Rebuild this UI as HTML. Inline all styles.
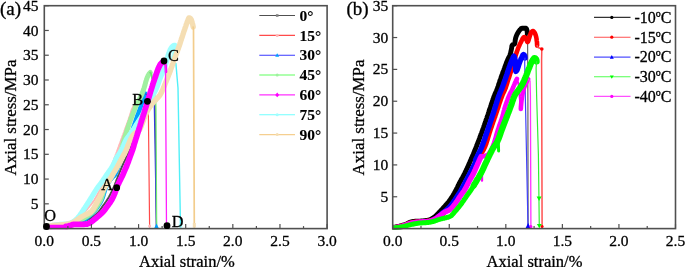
<!DOCTYPE html>
<html lang="en">
<head>
<meta charset="utf-8">
<title>Axial stress-strain curves</title>
<style>
html,body{margin:0;padding:0;background:#fff;}
body{width:685px;height:267px;overflow:hidden;font-family:"Liberation Serif","Times New Roman",serif;}
svg{display:block;}
</style>
</head>
<body>
<svg width="685" height="267" viewBox="0 0 685 267">
<rect width="685" height="267" fill="#fff"/>
<defs><clipPath id="cl"><rect x="44.3" y="5.7" width="282.8" height="224"/></clipPath><clipPath id="cr"><rect x="392.7" y="5.7" width="282.8" height="224"/></clipPath></defs>
<g clip-path="url(#cl)"><polyline points="47.0,227.0 48.0,227.0 49.1,227.0 50.1,226.9 51.1,226.9 52.1,226.9 53.2,226.8 54.2,226.7 55.2,226.6 56.2,226.6 57.2,226.5 58.2,226.4 59.2,226.2 60.2,226.1 61.2,226.0 62.2,225.8 63.2,225.7 64.2,225.5 65.2,225.4 66.2,225.2 67.2,225.1 68.2,224.9 69.2,224.7 70.1,224.5 71.1,224.3 72.1,224.1 73.1,223.9 74.1,223.8 75.0,223.6 76.0,223.3 77.0,223.1 78.0,222.9 78.9,222.7 79.9,222.5 80.9,222.3 81.8,222.0 82.8,221.7 83.8,221.3 84.7,221.0 85.7,220.6 86.6,220.3 87.6,219.9 88.5,219.6 89.4,219.2 90.3,218.7 91.2,218.2 92.0,217.6 92.8,217.0 93.6,216.4 94.3,215.7 95.1,215.1 95.9,214.4 96.6,213.7 97.4,213.1 98.1,212.3 98.8,211.6 99.4,210.8 100.0,210.0 100.6,209.2 101.2,208.4 101.8,207.6 102.3,206.7 102.9,205.9 103.5,205.1 104.1,204.3 104.7,203.5 105.3,202.7 105.9,201.8 106.4,201.0 107.0,200.2 107.5,199.3 108.0,198.4 108.6,197.6 109.1,196.7 109.5,195.8 110.0,194.9 110.5,194.0 110.9,193.1 111.4,192.2 111.8,191.3 112.3,190.4 112.7,189.5 113.1,188.6 113.5,187.7 113.9,186.8 114.3,185.8 114.7,184.9 115.0,184.0 115.4,183.0 115.8,182.1 116.1,181.1 116.5,180.2 116.8,179.3 117.2,178.3 117.6,177.4 117.9,176.4 118.3,175.5 118.7,174.6 119.1,173.6 119.4,172.7 119.8,171.8 120.2,170.8 120.6,169.9 121.0,169.0 121.4,168.1 121.8,167.1 122.2,166.2 122.6,165.3 123.0,164.4 123.4,163.5 123.8,162.5 124.3,161.6 124.7,160.7 125.2,159.8 125.6,158.9 126.0,158.0 126.4,157.1 126.9,156.2 127.3,155.3 127.7,154.3 128.1,153.4 128.5,152.5 128.9,151.6 129.3,150.7 129.7,149.7 130.1,148.8 130.4,147.9 130.8,146.9 131.1,146.0 131.5,145.0 131.8,144.1 132.2,143.1 132.5,142.2 132.8,141.2 133.2,140.3 133.5,139.3 133.9,138.4 134.2,137.4 134.5,136.5 134.9,135.5 135.2,134.6 135.6,133.7 135.9,132.7 136.2,131.8 136.6,130.8 136.9,129.9 137.2,128.9 137.6,128.0 137.9,127.0 138.2,126.1 138.6,125.1 138.9,124.2 139.2,123.2 139.6,122.3 139.9,121.3 140.2,120.4 140.5,119.4 140.9,118.4 141.2,117.5 141.5,116.5 141.8,115.6 142.1,114.6 142.4,113.7 142.7,112.7 143.1,111.7 143.4,110.8 143.7,109.8 144.0,108.9 144.3,107.9 144.7,107.0 145.0,106.0 145.3,105.1 145.6,104.1 146.0,103.1 146.3,102.2 146.6,101.2 147.0,100.3 147.3,99.3 147.8,98.4 148.2,97.6 148.8,96.8 149.5,96.0" fill="none" stroke="#505050" stroke-width="2" stroke-linejoin="round" stroke-linecap="round" />
<polyline points="149.5,96.0 155.0,101.0 155.2,110.0 156.3,227.0" fill="none" stroke="#505050" stroke-width="1.1" stroke-linejoin="round" stroke-linecap="round" />
<polyline points="47.0,227.0 48.0,226.9 49.0,226.7 50.0,226.6 51.0,226.5 52.0,226.3 53.0,226.2 54.0,226.0 55.0,225.8 56.0,225.7 57.0,225.5 58.0,225.3 59.0,225.2 60.0,225.0 61.0,224.8 62.0,224.7 63.0,224.5 64.0,224.3 65.0,224.2 66.0,224.0 67.0,223.8 68.0,223.5 68.9,223.3 69.9,223.0 70.8,222.7 71.7,222.4 72.6,221.9 73.5,221.4 74.4,220.9 75.3,220.4 76.2,219.8 77.0,219.2 77.8,218.6 78.6,218.0 79.4,217.4 80.1,216.7 80.8,216.0 81.5,215.3 82.2,214.6 82.9,213.8 83.6,213.0 84.3,212.3 85.0,211.5 85.6,210.8 86.3,210.0 87.0,209.3 87.7,208.5 88.3,207.7 89.0,207.0 89.6,206.2 90.3,205.4 90.9,204.6 91.5,203.8 92.1,203.0 92.8,202.2 93.3,201.4 93.9,200.6 94.5,199.7 95.0,198.9 95.5,198.1 96.0,197.2 96.5,196.3 97.0,195.4 97.5,194.5 98.0,193.6 98.5,192.8 98.9,191.9 99.4,191.0 99.9,190.1 100.4,189.2 100.8,188.3 101.3,187.4 101.8,186.5 102.3,185.6 102.8,184.8 103.3,183.9 103.8,183.0 104.3,182.1 104.8,181.2 105.3,180.3 105.8,179.5 106.2,178.6 106.7,177.7 107.1,176.8 107.5,175.8 107.9,174.9 108.3,174.0 108.7,173.1 109.1,172.1 109.5,171.2 109.9,170.3 110.3,169.3 110.6,168.4 111.0,167.5 111.4,166.5 111.7,165.6 112.1,164.6 112.4,163.7 112.8,162.7 113.1,161.8 113.5,160.8 113.9,159.9 114.2,158.9 114.6,158.0 114.9,157.1 115.3,156.1 115.6,155.2 116.0,154.2 116.4,153.3 116.7,152.3 117.1,151.4 117.4,150.4 117.8,149.5 118.1,148.5 118.4,147.6 118.8,146.6 119.1,145.7 119.5,144.7 119.8,143.8 120.2,142.9 120.5,141.9 120.9,141.0 121.2,140.0 121.5,139.1 121.9,138.1 122.2,137.2 122.6,136.2 122.9,135.3 123.3,134.3 123.6,133.4 124.0,132.4 124.3,131.5 124.6,130.5 125.0,129.6 125.3,128.6 125.7,127.7 126.0,126.7 126.3,125.8 126.7,124.8 127.0,123.9 127.4,122.9 127.7,122.0 128.0,121.0 128.4,120.1 128.7,119.1 129.0,118.2 129.4,117.2 129.7,116.2 130.0,115.3 130.3,114.3 130.6,113.3 130.9,112.4 131.2,111.4 131.5,110.4 131.9,109.5 132.2,108.6 132.7,107.7 133.1,106.8 133.6,105.9 134.1,105.0 134.7,104.2 135.2,103.3 135.8,102.5 136.5,101.7 137.1,100.9 137.7,100.1 138.4,99.4 139.1,98.7 139.8,97.9 140.6,97.2 141.3,96.6 142.1,95.9 142.9,95.3 143.7,94.7 144.5,94.1 145.3,93.5 146.2,93.0" fill="none" stroke="#ffb8b8" stroke-width="2" stroke-linejoin="round" stroke-linecap="round" />
<polyline points="146.2,93.0 148.2,98.0 148.4,115.0 149.6,227.0" fill="none" stroke="#ff4a4a" stroke-width="1.2" stroke-linejoin="round" stroke-linecap="round" />
<polyline points="47.0,227.0 48.0,227.0 49.1,227.0 50.1,227.0 51.1,226.9 52.1,226.9 53.1,226.8 54.2,226.8 55.2,226.7 56.2,226.6 57.2,226.5 58.2,226.5 59.2,226.4 60.2,226.3 61.2,226.1 62.2,226.0 63.2,225.9 64.2,225.8 65.2,225.7 66.2,225.5 67.2,225.4 68.1,225.3 69.1,225.1 70.1,225.0 71.1,224.8 72.1,224.6 73.0,224.3 74.0,224.1 75.0,223.8 75.9,223.4 76.9,223.1 77.9,222.8 78.8,222.4 79.8,222.1 80.7,221.7 81.7,221.4 82.6,221.1 83.6,220.7 84.5,220.3 85.4,219.8 86.2,219.3 87.0,218.6 87.8,218.0 88.5,217.3 89.3,216.6 90.1,216.0 90.8,215.3 91.6,214.6 92.3,213.9 93.1,213.3 93.8,212.5 94.5,211.8 95.1,211.1 95.8,210.3 96.4,209.5 97.0,208.7 97.6,207.8 98.2,207.0 98.7,206.2 99.3,205.3 99.8,204.5 100.4,203.6 100.9,202.8 101.4,201.9 101.9,201.0 102.3,200.1 102.7,199.2 103.1,198.3 103.4,197.3 103.8,196.4 104.1,195.4 104.3,194.4 104.6,193.4 104.9,192.5 105.2,191.5 105.5,190.5 105.9,189.6 106.2,188.6 106.6,187.7 107.0,186.8 107.5,185.9 107.9,185.0 108.4,184.1 108.9,183.2 109.5,182.3 110.0,181.5 110.5,180.6 111.1,179.8 111.8,179.1 112.5,178.3 113.2,177.6 114.0,176.9 114.6,176.2 115.3,175.4 115.8,174.6 116.2,173.7 116.6,172.8 117.0,171.9 117.4,170.9 117.7,170.0 118.1,169.0 118.4,168.0 118.8,167.1 119.1,166.1 119.4,165.1 119.8,164.2 120.2,163.2 120.5,162.3 120.9,161.4 121.2,160.4 121.5,159.5 121.9,158.5 122.2,157.6 122.6,156.6 122.9,155.7 123.3,154.7 123.6,153.8 123.9,152.8 124.3,151.9 124.6,150.9 125.0,150.0 125.4,149.0 125.7,148.1 126.1,147.2 126.5,146.2 126.8,145.3 127.2,144.3 127.6,143.4 127.9,142.5 128.3,141.5 128.7,140.6 129.1,139.7 129.5,138.7 129.8,137.8 130.2,136.9 130.6,135.9 131.0,135.0" fill="none" stroke="#00a0ff" stroke-width="3.2" stroke-linejoin="round" stroke-linecap="round" />
<polyline points="131.0,135.0 131.3,134.0 131.6,133.0 131.9,132.0 132.2,131.0 132.6,130.0 132.9,129.0 133.2,128.0 133.5,127.0 133.8,126.0 134.2,125.0 134.5,124.0 134.8,123.1 135.2,122.1 135.5,121.1 135.8,120.1 136.2,119.1 136.5,118.1 136.9,117.1 137.2,116.1 137.5,115.2 137.9,114.2 138.3,113.2 138.6,112.2 139.0,111.2 139.4,110.3 139.7,109.3 140.1,108.3 140.5,107.3 140.8,106.3 141.2,105.4 141.5,104.4 141.8,103.4 142.2,102.4 142.5,101.4 142.8,100.4 143.1,99.4 143.4,98.4 143.7,97.4 143.9,96.3 144.3,95.4 144.7,94.4 145.2,93.5" fill="none" stroke="#00a0ff" stroke-width="4.4" stroke-linejoin="round" stroke-linecap="round" />
<polyline points="145.5,94.0 154.0,100.0 154.3,104.0 156.5,227.0" fill="none" stroke="#3838e0" stroke-width="1.3" stroke-linejoin="round" stroke-linecap="round" />
<polyline points="47.0,227.0 48.0,226.9 49.0,226.8 50.0,226.8 51.0,226.7 52.0,226.5 53.0,226.4 54.0,226.3 55.0,226.2 56.0,226.1 57.0,225.9 58.0,225.8 59.0,225.6 60.0,225.5 61.0,225.3 62.0,225.2 63.0,225.0 64.0,224.8 65.0,224.6 66.0,224.4 67.0,224.2 68.0,224.0 68.9,223.8 69.9,223.5 70.9,223.3 71.9,223.0 72.8,222.8 73.8,222.5 74.7,222.1 75.7,221.8 76.6,221.4 77.6,221.0 78.5,220.6 79.4,220.2 80.4,219.8 81.3,219.4 82.2,219.0 83.1,218.5 84.0,218.1 84.9,217.6 85.7,217.1 86.6,216.5 87.5,216.0 88.3,215.4 89.1,214.8 90.0,214.2 90.7,213.6 91.5,212.9 92.2,212.3 92.9,211.6 93.6,210.8 94.2,210.0 94.8,209.2 95.4,208.4 96.0,207.5 96.5,206.7 97.1,205.8 97.7,205.0 98.2,204.2 98.8,203.3 99.3,202.4 99.8,201.6 100.3,200.7 100.7,199.8 101.1,198.9 101.4,197.9 101.8,197.0 102.1,196.0 102.4,195.0 102.7,194.1 102.9,193.1 103.2,192.1 103.5,191.1 103.9,190.2 104.2,189.2 104.6,188.3 105.0,187.4 105.4,186.5 105.9,185.6 106.4,184.7 106.9,183.8 107.4,183.0 107.9,182.1 108.5,181.3 109.1,180.4 109.7,179.6 110.3,178.8 110.8,177.9 111.3,177.1 111.7,176.2 112.0,175.2 112.4,174.3 112.7,173.4 113.0,172.4 113.3,171.4 113.6,170.4 113.9,169.5 114.2,168.5 114.5,167.5 114.8,166.5 115.1,165.6 115.4,164.6 115.8,163.7 116.2,162.7 116.5,161.8 116.9,160.9 117.3,160.0 117.7,159.0 118.1,158.1 118.5,157.2 118.9,156.2 119.3,155.3 119.7,154.4 120.1,153.4 120.4,152.5 120.8,151.6 121.1,150.6 121.4,149.6 121.7,148.7 122.0,147.7 122.2,146.7 122.5,145.8 122.7,144.8 123.0,143.8 123.2,142.8 123.5,141.9 123.8,140.9 124.0,139.9 124.3,138.9 124.6,138.0 124.9,137.0 125.2,136.0 125.5,135.1 125.8,134.1 126.1,133.2 126.4,132.2 126.7,131.2 127.0,130.3 127.4,129.3 127.7,128.4 128.0,127.4 128.3,126.5 128.6,125.5 129.0,124.5 129.3,123.6 129.6,122.6 130.0,121.7 130.3,120.7 130.6,119.8 131.0,118.8 131.3,117.9 131.7,116.9 132.0,116.0 132.4,115.1 132.7,114.1 133.1,113.2 133.4,112.2 133.8,111.3 134.2,110.3 134.6,109.4 134.9,108.5 135.3,107.5 135.7,106.6 136.1,105.7 136.6,104.8 137.0,103.9 137.5,103.0 137.9,102.1 138.4,101.2 138.9,100.3 139.4,99.4 139.8,98.5 140.3,97.6 140.7,96.7 141.2,95.8 141.5,94.9 141.9,94.0 142.3,93.0 142.7,92.1 143.0,91.1 143.3,90.2 143.7,89.2 144.0,88.3 144.3,87.3 144.6,86.3 144.9,85.4 145.1,84.4 145.4,83.4 145.6,82.4 145.9,81.4 146.2,80.5 146.5,79.5 146.8,78.6 147.2,77.6 147.6,76.7 148.0,75.8 148.5,74.9 149.0,74.0 149.6,73.2 150.3,72.5" fill="none" stroke="#a0f0a0" stroke-width="5" stroke-linejoin="round" stroke-linecap="round" />
<polyline points="150.3,72.5 151.5,74.5 152.0,78.0" fill="none" stroke="#70e070" stroke-width="2" stroke-linejoin="round" stroke-linecap="round" />
<polyline points="152.0,78.0 154.0,90.0 155.8,102.0 156.0,110.0 156.7,227.0" fill="none" stroke="#70ee70" stroke-width="1.2" stroke-linejoin="round" stroke-linecap="round" />
<polyline points="47.0,227.0 48.0,226.7 48.9,226.4 49.9,226.1 50.9,225.9 51.8,225.6 52.8,225.4 53.8,225.2 54.8,225.1 55.8,224.9 56.8,224.7 57.8,224.6 58.8,224.5 59.8,224.4 60.8,224.4 61.8,224.3 62.8,224.3 63.8,224.2 64.8,224.1 65.8,224.0 66.8,223.9 67.8,223.7 68.8,223.5 69.8,223.2 70.8,222.9 71.7,222.5 72.6,222.1 73.4,221.5 74.3,220.9 75.1,220.3 75.8,219.7 76.6,219.0 77.3,218.3 78.0,217.5 78.6,216.8 79.2,216.0 79.8,215.2 80.4,214.3 81.0,213.5 81.6,212.7 82.1,211.8 82.7,211.0 83.2,210.2 83.8,209.3 84.3,208.5 84.9,207.6 85.4,206.8 86.0,205.9 86.5,205.1 87.1,204.3 87.6,203.4 88.2,202.6 88.7,201.7 89.3,200.9 89.8,200.0 90.3,199.2 90.9,198.3 91.4,197.4 91.9,196.6 92.4,195.7 93.0,194.9 93.5,194.0 94.0,193.2 94.6,192.3 95.1,191.4 95.6,190.6 96.2,189.7 96.7,188.9 97.3,188.1 97.8,187.2 98.4,186.4 99.1,185.6 99.7,184.8 100.3,184.0 100.9,183.2 101.5,182.4 102.1,181.6 102.7,180.8 103.2,179.9 103.8,179.1 104.3,178.3 104.9,177.4 105.4,176.6 106.0,175.7 106.6,174.9 107.1,174.1 107.7,173.3 108.3,172.4 108.9,171.6 109.5,170.8 110.0,170.0 110.6,169.1 111.1,168.3 111.7,167.4 112.2,166.6 112.7,165.7 113.2,164.8 113.7,163.9 114.1,163.0 114.5,162.1 115.0,161.2 115.4,160.3 115.8,159.4 116.2,158.4 116.7,157.6 117.2,156.7 117.7,155.8 118.3,155.0 118.9,154.1 119.4,153.3 120.0,152.5 120.5,151.6 121.1,150.8 121.6,149.9 122.0,149.0 122.4,148.1 122.8,147.2 123.2,146.2 123.6,145.3 124.0,144.3 124.4,143.4 124.8,142.5 125.2,141.6 125.6,140.7 126.1,139.8 126.6,139.0 127.2,138.1 127.8,137.3 128.4,136.5 129.0,135.7 129.6,134.9 130.2,134.0 130.8,133.2 131.3,132.4 131.9,131.6 132.5,130.7 133.1,129.9 133.6,129.1 134.2,128.2 134.7,127.4 135.2,126.5 135.7,125.7 136.3,124.8 136.8,123.9 137.3,123.1 137.9,122.2 138.4,121.4 139.0,120.5 139.5,119.7 140.1,118.9 140.6,118.0 141.2,117.2 141.7,116.3 142.2,115.5 142.7,114.6 143.2,113.7 143.7,112.8 144.1,111.9 144.6,111.0 145.0,110.1 145.4,109.2 145.9,108.3 146.3,107.4 146.8,106.5 147.2,105.6 147.7,104.7 148.1,103.8 148.6,102.9 149.1,102.0 149.6,101.1 150.1,100.3 150.6,99.4 151.1,98.5 151.6,97.6 152.1,96.7 152.5,95.9 153.0,95.0 153.5,94.1 154.0,93.2 154.4,92.3 154.9,91.4 155.4,90.5 155.8,89.6 156.3,88.7 156.7,87.8 157.1,86.9 157.4,85.9 157.8,85.0 158.1,84.0 158.4,83.1 158.8,82.1 159.1,81.2 159.4,80.2 159.8,79.3 160.1,78.3 160.5,77.4 160.9,76.5 161.3,75.5 161.7,74.6 162.1,73.7 162.4,72.7 162.8,71.8 163.2,70.9 163.5,69.9 163.9,69.0 164.2,68.0 164.6,67.1 164.9,66.1 165.3,65.2 165.6,64.2 165.9,63.3 166.2,62.3 166.5,61.4 166.7,60.4 167.0,59.4 167.2,58.4 167.5,57.5 167.8,56.5 168.0,55.5 168.3,54.6 168.6,53.6 169.0,52.6 169.3,51.7 169.7,50.8 170.1,49.8 170.6,48.9 171.1,48.0 171.7,47.2 172.3,46.5 173.2,45.8 174.1,45.3 174.9,45.4 175.7,46.2 176.0,47.2 175.9,48.1 175.8,49.1 175.6,50.1 175.5,51.2 175.3,52.2 175.0,53.1 174.7,54.1 174.4,55.1 174.0,56.0 173.8,57.0 173.6,58.0 173.5,59.0 173.4,60.0 173.4,61.0" fill="none" stroke="#a0ffff" stroke-width="5.2" stroke-linejoin="round" stroke-linecap="round" />
<polyline points="173.4,61.0 175.9,63.6 178.0,88.0 178.4,110.0 180.5,227.0" fill="none" stroke="#50f0f8" stroke-width="1.4" stroke-linejoin="round" stroke-linecap="round" />
<polyline points="47.0,226.5 48.0,226.3 49.0,226.1 50.0,226.0 51.0,225.8 52.0,225.6 52.9,225.5 53.9,225.4 54.9,225.3 55.9,225.2 56.9,225.2 57.9,225.1 59.0,225.0 60.0,225.0 61.0,224.9 62.0,224.8 63.0,224.7 64.0,224.6 65.0,224.5 66.0,224.3 67.0,224.2 68.0,224.0 68.9,223.8 69.9,223.6 70.8,223.4 71.8,223.0 72.7,222.6 73.6,222.1 74.5,221.6 75.4,221.1 76.2,220.5 77.0,220.0 77.8,219.4 78.6,218.7 79.4,218.2 80.3,217.6 81.2,217.1 82.0,216.6 82.9,216.1 83.8,215.7 84.7,215.2 85.6,214.7 86.5,214.3 87.5,213.8 88.4,213.4 89.3,212.9 90.1,212.4 90.9,211.9 91.5,211.2 92.2,210.4 92.8,209.6 93.3,208.8 93.9,207.9 94.4,207.0 94.9,206.1 95.4,205.3 95.9,204.4 96.4,203.5 96.9,202.6 97.4,201.7 97.8,200.8 98.3,199.9 98.8,199.1 99.2,198.2 99.7,197.3 100.1,196.4 100.6,195.5 101.0,194.6 101.5,193.7 101.9,192.8 102.4,191.9 102.9,191.0 103.3,190.1 103.8,189.2 104.3,188.3 104.8,187.5 105.3,186.6 105.8,185.8 106.4,184.9 106.9,184.1 107.4,183.2 108.0,182.4 108.5,181.5 109.0,180.6 109.6,179.8 110.1,178.9 110.6,178.1 111.1,177.2 111.7,176.4 112.2,175.5 112.7,174.7 113.2,173.8 113.7,172.9 114.2,172.1 114.8,171.2 115.3,170.3 115.8,169.5 116.3,168.6 116.8,167.7 117.3,166.9 117.8,166.0 118.2,165.1 118.7,164.2 119.2,163.3 119.7,162.4 120.1,161.6 120.6,160.7 121.1,159.8 121.5,158.9 122.0,158.0 122.5,157.1 122.9,156.2 123.4,155.3 123.9,154.5 124.4,153.6 124.9,152.7 125.3,151.8 125.8,150.9 126.2,150.0 126.6,149.1 127.0,148.2 127.4,147.2 127.7,146.3 128.1,145.3 128.4,144.4 128.8,143.4 129.2,142.5 129.6,141.6 130.0,140.7 130.4,139.8 130.9,138.9 131.3,138.0 131.8,137.1 132.4,136.2 132.9,135.3 133.5,134.6 134.2,133.8 134.9,133.2 135.8,132.7 136.7,132.2 137.6,131.6 138.4,131.1 139.1,130.4 139.6,129.6 140.1,128.8 140.5,127.8 140.9,126.9 141.3,125.9 141.6,124.9 142.0,124.0 142.4,123.1 142.8,122.1 143.1,121.2 143.5,120.2 143.8,119.3 144.2,118.3 144.5,117.4 144.9,116.5 145.3,115.5 145.7,114.6 146.1,113.7 146.5,112.8 147.0,111.9 147.4,111.0 147.9,110.1 148.4,109.3 148.9,108.4 149.5,107.5 150.0,106.7 150.6,105.9 151.2,105.1 151.8,104.3 152.4,103.5 153.1,102.7 153.7,102.0 154.4,101.2 155.1,100.5 155.8,99.8 156.4,99.0 157.1,98.3 157.9,97.5 158.6,96.8 159.2,96.1 159.8,95.3 160.3,94.5 160.8,93.6 161.3,92.7 161.7,91.8 162.1,90.9 162.6,89.9 163.0,89.0 163.4,88.1 163.8,87.2 164.2,86.2 164.6,85.3 164.9,84.4 165.3,83.5 165.7,82.5 166.1,81.6 166.4,80.7 166.8,79.7 167.2,78.8 167.5,77.9 167.9,76.9 168.3,76.0 168.6,75.1 169.0,74.1 169.4,73.2 169.7,72.2 170.1,71.3 170.4,70.4 170.7,69.4 171.1,68.5 171.4,67.5 171.8,66.6 172.1,65.6 172.4,64.7 172.8,63.7 173.1,62.8 173.4,61.8 173.7,60.9 174.1,59.9 174.4,59.0 174.7,58.0 175.1,57.1 175.4,56.2 175.8,55.2 176.2,54.3 176.5,53.3 176.9,52.4 177.3,51.5 177.6,50.5 177.9,49.6 178.3,48.6 178.6,47.7 178.9,46.7 179.3,45.8 179.6,44.8 179.9,43.9 180.2,42.9 180.5,42.0 180.8,41.0 181.1,40.1 181.4,39.1 181.7,38.2 182.1,37.2 182.4,36.2 182.7,35.3 183.0,34.3 183.3,33.4 183.6,32.4 183.9,31.5 184.3,30.5 184.6,29.6 184.9,28.6 185.2,27.7 185.6,26.7 185.9,25.8 186.2,24.8 186.5,23.9 186.9,22.9 187.2,22.0 187.6,21.0 188.0,20.1 188.4,18.9 188.8,18.0 189.5,17.9 190.5,18.5 191.0,19.2 191.4,20.1 191.7,21.1 192.0,22.1 192.3,23.1 192.6,24.0 192.8,25.0 193.0,26.0 193.2,27.0" fill="none" stroke="#f5deb3" stroke-width="5.4" stroke-linejoin="round" stroke-linecap="round" />
<polyline points="193.2,27.0 193.5,30.0 194.3,227.0" fill="none" stroke="#f3cd8c" stroke-width="1.7" stroke-linejoin="round" stroke-linecap="round" />
<polyline points="66.0,226.4 67.0,226.3 68.0,226.1 69.0,225.8 69.9,225.5 70.9,225.2 71.8,224.9 72.8,224.6 73.8,224.4 74.8,224.4 75.8,224.3 76.8,224.3 77.8,224.3 78.8,224.3 79.8,224.3 80.9,224.3 81.9,224.3 82.9,224.3 83.9,224.3 84.9,224.2 85.9,224.2 86.8,224.1 87.8,223.8 88.8,223.4 89.7,223.0 90.6,222.5 91.4,221.9 92.2,221.3 93.0,220.7 93.7,220.0 94.5,219.4 95.3,218.7 96.1,218.1 96.8,217.4 97.6,216.8 98.4,216.1 99.1,215.5 99.9,214.8 100.7,214.1 101.4,213.5 102.1,212.8 102.8,212.1 103.5,211.3 104.1,210.6 104.8,209.8 105.4,209.0 106.0,208.1 106.6,207.3 107.1,206.5 107.7,205.7 108.3,204.9 108.9,204.1 109.5,203.2 110.1,202.4 110.6,201.6 111.2,200.7 111.7,199.9 112.2,199.0 112.6,198.1 113.1,197.2 113.5,196.3 113.9,195.4 114.3,194.4 114.7,193.5 115.0,192.6 115.4,191.6 115.7,190.6 116.0,189.7 116.3,188.7 116.7,187.8 117.0,186.9 117.4,185.9 117.8,185.0 118.3,184.1 118.7,183.2 119.1,182.3 119.6,181.4 120.0,180.5 120.5,179.6 120.9,178.7 121.4,177.8 121.8,176.9 122.3,176.0 122.7,175.1 123.1,174.2 123.5,173.2 123.9,172.3 124.3,171.4 124.7,170.5 125.1,169.5 125.5,168.6 125.9,167.7 126.3,166.8 126.7,165.8 127.0,164.9 127.4,164.0 127.8,163.0 128.1,162.1 128.5,161.1 128.8,160.2 129.1,159.2 129.5,158.3 129.8,157.3 130.2,156.4 130.5,155.5 130.9,154.5 131.2,153.6 131.6,152.6 131.9,151.7 132.3,150.7 132.6,149.8 132.9,148.8 133.2,147.9 133.5,146.9 133.8,145.9 134.0,145.0 134.3,144.0 134.6,143.0 134.9,142.1 135.2,141.1 135.5,140.1 135.8,139.2 136.1,138.2 136.4,137.3 136.7,136.3 137.0,135.4 137.3,134.4 137.6,133.4 137.9,132.5 138.2,131.5 138.5,130.6 138.8,129.6 139.1,128.6 139.4,127.7 139.7,126.7 140.0,125.8 140.3,124.8 140.6,123.8 140.9,122.9 141.2,121.9 141.5,121.0 141.8,120.0 142.1,119.0 142.4,118.1 142.7,117.1 143.0,116.2 143.3,115.2 143.6,114.2 143.9,113.3 144.2,112.3 144.5,111.4 144.8,110.4 145.1,109.4 145.4,108.5 145.7,107.5 146.0,106.6 146.3,105.6 146.6,104.6 146.9,103.7 147.2,102.7 147.5,101.8 147.8,100.8 148.1,99.8 148.4,98.9 148.7,97.9 149.0,97.0 149.3,96.0 149.6,95.0 149.8,94.1 150.1,93.1 150.4,92.1 150.7,91.2 151.0,90.2 151.3,89.2 151.6,88.3 151.9,87.3 152.2,86.4 152.5,85.4 152.8,84.5 153.1,83.5 153.4,82.5 153.7,81.6 154.1,80.6 154.4,79.7 154.7,78.7 155.0,77.8 155.4,76.8 155.7,75.9 156.0,74.9 156.3,74.0 156.7,73.0 157.0,72.0 157.3,71.1 157.7,70.1 158.0,69.2 158.4,68.3 158.8,67.4 159.3,66.5 159.7,65.5 160.2,64.6 160.8,63.8 161.4,63.1 162.2,62.5 163.0,61.9 164.0,61.5" fill="none" stroke="#ff00ff" stroke-width="5.8" stroke-linejoin="round" stroke-linecap="round" />
<polyline points="46.5,226.9 67.0,226.9" fill="none" stroke="#ff00ff" stroke-width="4.5" stroke-linejoin="round" stroke-linecap="round" />
<polyline points="164.0,61.5 165.6,65.0 166.0,69.0 166.0,72.0" fill="none" stroke="#ff00ff" stroke-width="2.6" stroke-linejoin="round" stroke-linecap="round" />
<polyline points="164.0,61.5 165.3,64.0 165.5,70.0 166.5,227.0" fill="none" stroke="#ff20ff" stroke-width="1.3" stroke-linejoin="round" stroke-linecap="round" />
<path d="M154.3 228 L156.5 223.5 L158.7 228 Z" fill="#00a0ff"/>
<rect x="192.8" y="223" width="3" height="4.5" fill="#f5deb3"/>
<rect x="178.8" y="224" width="3.4" height="3.5" fill="#a0ffff"/>
<circle cx="149.6" cy="226" r="1.5" fill="#ffb8b8"/></g>
<g clip-path="url(#cr)"><polyline points="393.0,227.5 394.0,227.3 395.0,227.1 396.0,226.9 396.9,226.7 397.9,226.5 398.9,226.3 399.9,226.0 400.8,225.8 401.8,225.5 402.8,225.2 403.7,224.9 404.7,224.6 405.6,224.3 406.6,223.9 407.5,223.4 408.4,223.0 409.3,222.6 410.2,222.2 411.2,222.0 412.2,221.7 413.2,221.5 414.2,221.4 415.2,221.3 416.2,221.2 417.2,221.2 418.2,221.2 419.2,221.1 420.2,221.1 421.2,221.0 422.2,221.0 423.2,220.9 424.2,220.8 425.2,220.7 426.2,220.5 427.2,220.4 428.2,220.2 429.1,220.0 430.1,219.7 431.0,219.2 431.9,218.7 432.7,218.2 433.6,217.6 434.4,217.0 435.2,216.4 435.9,215.7 436.7,215.0 437.4,214.3 438.1,213.6 438.8,212.8 439.4,212.1 440.1,211.4 440.8,210.6 441.5,209.9 442.2,209.2 442.9,208.4 443.5,207.7 444.2,206.9 444.9,206.2 445.5,205.4 446.2,204.6 446.9,203.9 447.5,203.1 448.2,202.4 448.8,201.6 449.4,200.8 450.0,200.0 450.6,199.2 451.1,198.3 451.7,197.5 452.2,196.6 452.8,195.8 453.3,194.9 453.8,194.0 454.3,193.2 454.8,192.3 455.3,191.4 455.8,190.5 456.2,189.7 456.7,188.8 457.1,187.9 457.6,187.0 458.0,186.0 458.4,185.1 458.9,184.2 459.3,183.3 459.8,182.4 460.2,181.5 460.7,180.7 461.2,179.8 461.7,178.9 462.2,178.0 462.7,177.2 463.2,176.3 463.6,175.4 464.1,174.5 464.6,173.6 465.0,172.7 465.5,171.8 465.9,170.9 466.3,170.0 466.7,169.1 467.2,168.2 467.6,167.3 468.0,166.3 468.4,165.4 468.8,164.5 469.2,163.6 469.6,162.7 470.0,161.7 470.4,160.8 470.8,159.9 471.2,159.0 471.6,158.1 472.0,157.1 472.4,156.2 472.8,155.3 473.2,154.4 473.6,153.4 474.0,152.5 474.3,151.6 474.7,150.6 475.1,149.7 475.5,148.8 475.9,147.9 476.2,146.9 476.6,146.0 477.0,145.0 477.3,144.1 477.7,143.2 478.0,142.2 478.4,141.3 478.8,140.4 479.1,139.4 479.5,138.5 479.8,137.5 480.2,136.6 480.5,135.7 480.9,134.7 481.2,133.8 481.6,132.8 481.9,131.9 482.3,130.9 482.6,130.0 482.9,129.1 483.3,128.1 483.6,127.2 483.9,126.2 484.3,125.3 484.6,124.3 484.9,123.4 485.3,122.4 485.6,121.5 485.9,120.5 486.2,119.6 486.6,118.6 486.9,117.7 487.2,116.7 487.5,115.8 487.9,114.8 488.2,113.9 488.5,112.9 488.8,112.0 489.1,111.0 489.5,110.0 489.8,109.1 490.1,108.1 490.4,107.2 490.7,106.2 491.0,105.3 491.3,104.3 491.6,103.4 492.0,102.4 492.3,101.4 492.6,100.5 492.9,99.5 493.3,98.6 493.6,97.7 493.9,96.7 494.3,95.8 494.7,94.8 495.0,93.9 495.5,93.0 495.9,92.1 496.3,91.2 496.7,90.2 497.1,89.3 497.4,88.4 497.8,87.4 498.1,86.5 498.4,85.5 498.7,84.6 499.0,83.6 499.3,82.6 499.6,81.7 499.9,80.7 500.2,79.8 500.6,78.8 500.9,77.9 501.2,76.9 501.6,76.0 501.9,75.1 502.3,74.1 502.6,73.2 503.0,72.2 503.3,71.3 503.7,70.3 504.0,69.4 504.4,68.5 504.7,67.5 505.1,66.6 505.4,65.6 505.8,64.7 506.1,63.7 506.5,62.8 506.8,61.9 507.2,60.9 507.6,60.0 508.0,59.1 508.4,58.2 508.9,57.3 509.4,56.4 509.8,55.5 510.1,54.5 510.4,53.6 510.7,52.6 510.9,51.6 511.1,50.6 511.3,49.7 511.5,48.7 511.7,47.7 511.8,46.6 512.0,45.6 512.5,44.9 513.6,44.5 514.5,44.1 514.7,43.4 514.9,42.4 515.1,41.4 515.2,40.3 515.4,39.2 515.6,38.2 515.9,37.2 516.2,36.3 516.6,35.3 517.0,34.4 517.5,33.5 518.0,32.6 518.5,31.8 519.1,30.9 519.7,30.1 520.4,29.4 521.1,28.6 522.0,28.2 523.0,28.2 524.1,28.2 525.2,28.2 526.0,28.2 526.5,28.8 526.9,30.0 527.1,31.0 527.2,32.0 527.3,32.9 527.4,34.0 527.4,35.0" fill="none" stroke="#000" stroke-width="4.9" stroke-linejoin="round" stroke-linecap="round" />
<polyline points="527.4,35.0 527.6,36.0 527.9,100.0 528.1,227.0" fill="none" stroke="#555" stroke-width="1.1" stroke-linejoin="round" stroke-linecap="round" />
<polyline points="393.0,227.5 394.0,227.4 395.0,227.2 396.0,227.1 397.0,226.9 398.0,226.7 399.0,226.5 399.9,226.3 400.9,226.1 401.9,225.8 402.8,225.5 403.8,225.2 404.8,224.9 405.7,224.6 406.7,224.3 407.6,223.8 408.5,223.4 409.4,223.0 410.4,222.7 411.3,222.4 412.3,222.3 413.3,222.1 414.3,222.0 415.3,221.9 416.3,221.8 417.3,221.7 418.3,221.7 419.3,221.6 420.3,221.6 421.3,221.5 422.3,221.5 423.3,221.4 424.3,221.3 425.4,221.2 426.4,221.1 427.4,221.0 428.3,220.9 429.3,220.7 430.3,220.5 431.3,220.3 432.2,220.0 433.2,219.6 434.1,219.3 435.1,218.9 436.0,218.5 436.9,218.1 437.9,217.7 438.8,217.3 439.7,216.8 440.5,216.3 441.3,215.8 442.1,215.1 442.8,214.5 443.5,213.7 444.2,213.0 444.9,212.2 445.6,211.4 446.3,210.7 447.0,210.0 447.7,209.3 448.4,208.5 449.0,207.8 449.7,207.1 450.4,206.3 451.1,205.6 451.7,204.8 452.4,204.0 453.0,203.3 453.7,202.5 454.3,201.7 455.0,201.0 455.6,200.2 456.2,199.4 456.8,198.6 457.4,197.8 458.0,197.0 458.6,196.1 459.1,195.3 459.7,194.5 460.2,193.6 460.7,192.8 461.2,191.9 461.7,191.0 462.2,190.1 462.7,189.2 463.2,188.4 463.6,187.5 464.1,186.6 464.6,185.7 465.0,184.8 465.5,183.9 466.0,183.0 466.5,182.1 466.9,181.2 467.4,180.4 467.9,179.5 468.3,178.6 468.8,177.7 469.3,176.8 469.7,175.9 470.2,175.0 470.7,174.1 471.1,173.2 471.6,172.3 472.1,171.5 472.5,170.6 473.0,169.7 473.5,168.8 474.0,167.9 474.4,167.0 474.9,166.1 475.4,165.2 475.8,164.3 476.3,163.5 476.7,162.6 477.2,161.7 477.6,160.8 478.1,159.8 478.5,158.9 478.9,158.0 479.4,157.1 479.8,156.2 480.3,155.4 480.8,154.5 481.3,153.6 481.8,152.7 482.4,151.9 482.9,151.0 483.4,150.2 483.9,149.3 484.3,148.4 484.7,147.5 485.1,146.6 485.5,145.6 485.8,144.7 486.2,143.8 486.5,142.8 486.8,141.9 487.1,140.9 487.4,140.0 487.7,139.0 488.0,138.0 488.3,137.1 488.6,136.1 488.9,135.1 489.2,134.1 489.5,133.2 489.8,132.2 490.1,131.3 490.4,130.3 490.7,129.3 491.0,128.4 491.4,127.4 491.7,126.5 492.0,125.5 492.3,124.6 492.7,123.6 493.0,122.7 493.3,121.7 493.6,120.8 494.0,119.8 494.3,118.9 494.6,117.9 495.0,117.0 495.3,116.0 495.6,115.1 495.9,114.1 496.3,113.2 496.6,112.2 496.9,111.3 497.2,110.3 497.5,109.4 497.9,108.4 498.2,107.5 498.5,106.5 498.8,105.6 499.1,104.6 499.4,103.6 499.7,102.7 500.1,101.7 500.4,100.8 500.7,99.8 501.0,98.9 501.4,97.9 501.7,97.0 502.1,96.1 502.4,95.1 502.8,94.2 503.2,93.3 503.7,92.4 504.1,91.5 504.5,90.6 504.9,89.6 505.3,88.7 505.7,87.8 506.0,86.8 506.3,85.9 506.6,84.9 506.9,84.0 507.2,83.0 507.5,82.0 507.8,81.1 508.1,80.1 508.4,79.2 508.8,78.2 509.1,77.3 509.4,76.3 509.7,75.3 510.0,74.4 510.3,73.4 510.6,72.5 510.9,71.5 511.2,70.6 511.5,69.6 511.8,68.6 512.1,67.7 512.4,66.7 512.7,65.8 513.0,64.8 513.3,63.8 513.5,62.9 513.8,61.9 514.1,60.9 514.4,60.0 514.7,59.0 515.0,58.0 515.2,57.1 515.5,56.1 515.8,55.2 516.1,54.2 516.4,53.2 516.7,52.3 517.0,51.3 517.4,50.4 517.7,49.4 518.0,48.5 518.4,47.5 518.8,46.6 519.2,45.7 519.6,44.8 520.0,43.9 520.5,43.0 521.0,42.1 521.4,41.1 522.0,40.0 522.5,38.9 523.1,38.0 523.7,37.3 524.3,37.0 524.9,37.4 525.6,38.4 526.2,39.3 526.7,40.4 527.1,41.5 527.6,42.0 528.0,41.7 528.3,40.9 528.7,39.8 529.0,38.5 529.4,37.4 529.7,36.4 530.0,35.4 530.4,34.4 530.7,33.4 531.1,32.5 531.7,31.8 532.6,31.1 533.3,31.1 534.0,31.8 534.7,32.8 535.1,33.7 535.5,34.7 535.8,35.6 536.1,36.6 536.3,37.6 536.5,38.6 536.6,39.6 536.7,40.6 536.9,41.6 537.0,42.6 537.0,43.6 537.1,44.6 537.1,45.6" fill="none" stroke="#ff0000" stroke-width="4.6" stroke-linejoin="round" stroke-linecap="round" />
<polyline points="537.1,45.6 538.0,47.5 541.8,49.0 541.6,60.0 542.1,227.0" fill="none" stroke="#ff5050" stroke-width="1.5" stroke-linejoin="round" stroke-linecap="round" />
<polyline points="393.0,227.8 394.0,227.7 395.0,227.5 396.0,227.4 397.0,227.2 398.0,227.0 398.9,226.7 399.9,226.5 400.9,226.3 401.8,226.0 402.8,225.7 403.7,225.3 404.7,225.0 405.6,224.6 406.6,224.3 407.5,223.9 408.4,223.4 409.3,223.0 410.3,222.7 411.2,222.5 412.2,222.3 413.2,222.1 414.2,222.0 415.2,221.9 416.2,221.8 417.2,221.7 418.2,221.7 419.2,221.6 420.2,221.6 421.2,221.5 422.2,221.5 423.2,221.4 424.3,221.3 425.3,221.3 426.3,221.2 427.3,221.0 428.3,220.9 429.2,220.8 430.2,220.5 431.1,220.2 432.1,219.8 433.0,219.3 433.9,218.8 434.8,218.3 435.6,217.8 436.4,217.2 437.2,216.6 437.9,215.9 438.7,215.2 439.4,214.5 440.1,213.8 440.9,213.1 441.6,212.5 442.4,211.8 443.2,211.2 444.0,210.6 444.8,210.0 445.6,209.4 446.3,208.7 447.1,208.0 447.8,207.3 448.5,206.6 449.2,205.9 449.9,205.1 450.5,204.4 451.1,203.6 451.7,202.8 452.3,201.9 452.8,201.1 453.4,200.3 454.0,199.4 454.5,198.6 455.1,197.7 455.6,196.9 456.2,196.1 456.8,195.3 457.3,194.4 457.9,193.6 458.4,192.7 459.0,191.9 459.5,191.0 460.0,190.2 460.5,189.3 461.0,188.4 461.4,187.5 461.9,186.6 462.4,185.7 462.8,184.8 463.3,184.0 463.7,183.1 464.2,182.2 464.7,181.3 465.1,180.4 465.6,179.5 466.1,178.6 466.6,177.7 467.0,176.8 467.5,175.9 467.9,175.1 468.4,174.2 468.9,173.3 469.3,172.4 469.8,171.5 470.2,170.6 470.7,169.7 471.1,168.8 471.6,167.9 472.0,167.0 472.5,166.1 472.9,165.2 473.4,164.3 473.8,163.4 474.3,162.5 474.7,161.6 475.2,160.7 475.6,159.8" fill="none" stroke="#0000ff" stroke-width="3.3" stroke-linejoin="round" stroke-linecap="round" />
<polyline points="475.6,159.8 476.1,158.9 476.5,158.0 477.0,157.1 477.4,156.2 477.8,155.3 478.3,154.4 478.7,153.5 479.2,152.6 479.6,151.7 480.1,150.8 480.5,149.9 480.9,149.0 481.3,148.0 481.7,147.1 482.0,146.2 482.4,145.3 482.8,144.3 483.1,143.4 483.4,142.4 483.8,141.5 484.1,140.5 484.5,139.6 484.8,138.6 485.1,137.7 485.4,136.7 485.7,135.8 486.1,134.8 486.4,133.9 486.7,132.9 487.0,132.0 487.4,131.0 487.7,130.1 488.0,129.1 488.3,128.2 488.6,127.2 489.0,126.3 489.3,125.3 489.6,124.4 489.9,123.4 490.2,122.5 490.5,121.5 490.9,120.5 491.2,119.6 491.5,118.6 491.8,117.7 492.1,116.7 492.4,115.8 492.7,114.8 493.1,113.9 493.4,112.9 493.7,112.0 494.0,111.0 494.3,110.0 494.6,109.1 494.9,108.1 495.2,107.2 495.5,106.2 495.8,105.2 496.1,104.3 496.4,103.3 496.7,102.4 497.0,101.4 497.3,100.5 497.6,99.5 497.9,98.6 498.3,97.6 498.6,96.7 498.9,95.7 499.3,94.8 499.7,93.8 500.0,92.9 500.4,92.0 500.8,91.1 501.2,90.1 501.6,89.2 502.0,88.3 502.3,87.3 502.7,86.4 503.0,85.5 503.4,84.5 503.7,83.6 504.1,82.6 504.4,81.7 504.7,80.7 505.1,79.8 505.4,78.8 505.7,77.9 506.0,76.9 506.3,76.0 506.7,75.0 507.0,74.1 507.3,73.1 507.6,72.2 507.9,71.2 508.2,70.3 508.5,69.3 508.9,68.4 509.2,67.4 509.6,66.5 509.9,65.5 510.2,64.6 510.6,63.6 511.0,62.7 511.3,61.8 511.7,60.8 512.1,59.9 512.5,59.0 513.0,57.9 513.4,56.8 513.9,56.2 514.2,56.6 514.6,57.8 514.8,59.0 514.9,59.9 515.1,60.9 515.2,61.9 515.3,62.9 515.3,63.9 515.4,65.0 515.5,66.0 515.6,67.1 515.6,68.4 515.7,69.7 515.7,70.8 515.8,71.4 516.1,71.3 516.8,70.4 517.3,69.5 517.6,68.5 517.9,67.6 518.2,66.6 518.5,65.6 518.8,64.7 519.1,63.7 519.5,62.8 519.8,61.8 520.2,60.9 520.6,60.0 521.0,59.0 521.4,58.1 521.9,57.1 522.4,56.0 522.9,55.1 523.5,54.6 524.3,55.1 524.7,55.9 524.9,56.9 525.0,58.0" fill="none" stroke="#0000ff" stroke-width="5.4" stroke-linejoin="round" stroke-linecap="round" />
<polyline points="525.0,58.0 524.7,62.0 525.4,100.0 528.0,227.0" fill="none" stroke="#4040ff" stroke-width="1.2" stroke-linejoin="round" stroke-linecap="round" />
<polyline points="393.0,228.0 394.0,227.9 395.0,227.7 396.0,227.6 397.0,227.4 398.0,227.2 399.0,227.0 400.0,226.8 401.0,226.6 402.0,226.3 402.9,226.0 403.9,225.7 404.9,225.4 405.8,225.1 406.8,224.7 407.8,224.4 408.7,224.0 409.7,223.7 410.6,223.3 411.6,223.1 412.6,222.9 413.6,222.7 414.6,222.6 415.6,222.4 416.6,222.3 417.6,222.2 418.6,222.1 419.6,222.0 420.7,221.9 421.7,221.9 422.7,221.8 423.7,221.8 424.7,221.7 425.8,221.7 426.8,221.6 427.8,221.5 428.7,221.4 429.7,221.2 430.7,220.9 431.7,220.5 432.6,220.1 433.6,219.7 434.5,219.3 435.3,218.8 436.2,218.3 437.0,217.7 437.9,217.1 438.7,216.4 439.5,215.8 440.3,215.3 441.2,214.7 442.0,214.1 442.8,213.5 443.6,212.9 444.5,212.3 445.3,211.8 446.3,211.4 447.2,210.9 448.2,210.5 449.1,210.1 449.9,209.6 450.7,209.0 451.4,208.3 452.1,207.6 452.8,206.8 453.5,206.0 454.1,205.2 454.7,204.4 455.3,203.6 455.9,202.7 456.5,201.9 457.1,201.1 457.6,200.2 458.2,199.3 458.7,198.5 459.3,197.6 459.8,196.8 460.4,195.9 460.9,195.1 461.5,194.3 462.2,193.5 462.8,192.7 463.4,191.9 464.0,191.0 464.5,190.2 465.0,189.3 465.5,188.4 466.0,187.5 466.5,186.6 466.9,185.7 467.4,184.8 467.8,183.9 468.3,183.0 468.8,182.1 469.2,181.2 469.7,180.3 470.2,179.4 470.7,178.5 471.2,177.6 471.7,176.7 472.2,175.9 472.7,175.0 473.2,174.1 473.6,173.2 474.1,172.3 474.5,171.3 474.9,170.4 475.3,169.5 475.7,168.5 476.1,167.6 476.5,166.7 476.9,165.8 477.3,164.8 477.7,163.9 478.2,163.0 478.6,162.0 479.0,161.1 479.4,160.2 479.8,159.3 480.3,158.3 480.7,157.4 481.1,156.5" fill="none" stroke="#ff00ff" stroke-width="5.4" stroke-linejoin="round" stroke-linecap="round" />
<polyline points="481.1,156.5 482.2,156.4 483.4,156.3 484.4,156.0 485.4,155.7 486.3,155.3 487.1,155.0 487.8,154.5 488.5,153.8 489.2,153.0 489.8,152.1 490.4,151.2 490.9,150.2 491.4,149.2 491.9,148.2 492.3,147.3 492.7,146.4 493.1,145.5 493.4,144.5 493.8,143.6 494.1,142.6 494.4,141.6 494.7,140.6 495.0,139.6 495.3,138.6 495.6,137.6 495.9,136.6 496.1,135.6 496.4,134.6 496.7,133.6 497.0,132.6 497.3,131.6 497.6,130.6 497.9,129.6 498.3,128.6 498.6,127.7 498.9,126.7 499.3,125.7 499.6,124.7 499.9,123.8 500.3,122.8 500.6,121.8 500.9,120.8 501.3,119.9 501.6,118.9 502.0,117.9 502.3,116.9 502.7,116.0 503.0,115.0" fill="none" stroke="#ff00ff" stroke-width="4.5" stroke-linejoin="round" stroke-linecap="round" />
<polyline points="503.0,115.0 503.2,113.9 503.4,112.9 503.6,111.9 503.9,110.8 504.2,109.8 504.4,108.8 504.7,107.8 505.0,106.8 505.3,105.8 505.7,104.8 506.0,103.8 506.4,102.8 506.7,101.8 507.1,100.8 507.5,99.8 507.8,98.9 508.2,97.9 508.6,96.9 509.0,96.0 509.4,95.0 509.8,94.0 510.3,93.1 510.8,92.2 511.3,91.3 511.8,90.3 512.3,89.4 512.7,88.4 513.1,87.5 513.5,86.5 513.9,85.5 514.3,84.6 514.7,83.6 515.2,82.6 515.6,81.7 516.0,80.7 516.5,79.8 516.9,78.8" fill="none" stroke="#ff00ff" stroke-width="4.6" stroke-linejoin="round" stroke-linecap="round" />
<polyline points="516.9,78.8 518.5,84.0 519.5,95.0 520.8,110.0" fill="none" stroke="#ff00ff" stroke-width="2" stroke-linejoin="round" stroke-linecap="round" />
<polyline points="520.8,109.0 520.9,108.0 520.9,106.9 521.0,105.9 521.1,104.9 521.2,103.8 521.3,102.8 521.4,101.8 521.5,100.7 521.6,99.7 521.8,98.7 521.9,97.7 522.1,96.6 522.2,95.6 522.4,94.6 522.6,93.6 522.8,92.6 523.0,91.5 523.3,90.5 523.5,89.5 523.8,88.6 524.1,87.6 524.5,86.6 524.9,85.6 525.3,84.7 525.7,83.7 526.1,82.8 526.6,81.9 527.1,81.0 527.6,80.1 528.2,79.2" fill="none" stroke="#ff00ff" stroke-width="4.6" stroke-linejoin="round" stroke-linecap="round" />
<polyline points="528.2,79.2 530.0,81.0 530.4,95.0 530.9,227.0" fill="none" stroke="#ff30ff" stroke-width="1.3" stroke-linejoin="round" stroke-linecap="round" />
<polyline points="481.9,174.0 482.0,180.5" fill="none" stroke="#ff00ff" stroke-width="2.4" stroke-linejoin="round" stroke-linecap="round" />
<polyline points="393.0,228.0 394.0,227.9 395.0,227.8 396.0,227.7 397.0,227.6 398.0,227.5 399.0,227.4 400.0,227.2 401.0,227.0 402.0,226.8 403.0,226.6 403.9,226.3 404.9,226.1 405.9,225.8 406.9,225.6 407.8,225.3 408.8,225.1 409.8,224.8 410.8,224.6 411.7,224.4 412.7,224.2 413.7,224.0 414.7,223.8 415.7,223.6 416.7,223.4 417.7,223.3 418.7,223.1 419.7,223.0 420.7,222.9 421.7,222.9 422.7,222.8 423.7,222.8 424.7,222.7 425.7,222.7 426.7,222.6 427.7,222.5 428.7,222.4 429.7,222.2 430.7,222.0 431.7,221.8 432.7,221.6 433.6,221.3 434.6,221.0 435.6,220.7 436.5,220.4 437.5,220.0 438.4,219.7 439.4,219.4 440.3,219.1 441.3,218.9 442.3,218.6 443.3,218.4 444.3,218.2 445.2,217.9 446.2,217.7 447.2,217.4 448.2,217.2 449.2,216.8 450.0,216.5 450.8,216.0 451.6,215.4 452.3,214.6 453.0,213.9 453.7,213.1 454.3,212.2 455.0,211.5 455.7,210.7 456.4,210.0 457.0,209.2 457.7,208.4 458.3,207.7 458.9,206.9 459.6,206.1 460.2,205.3 460.8,204.5 461.4,203.7 462.0,202.9 462.5,202.0 463.1,201.2 463.7,200.4 464.3,199.5 464.8,198.7 465.4,197.9 466.0,197.0 466.5,196.2 467.1,195.4 467.7,194.6 468.3,193.8 468.9,193.0 469.5,192.1 470.1,191.3 470.6,190.5 471.2,189.6 471.7,188.8 472.3,187.9 472.8,187.1 473.3,186.2 473.8,185.4" fill="none" stroke="#00ff00" stroke-width="5.0" stroke-linejoin="round" stroke-linecap="round" />
<polyline points="473.8,185.4 474.3,184.5 474.8,183.6 475.4,182.8 475.9,181.9 476.4,181.0 476.9,180.2 477.4,179.3 478.0,178.4 478.5,177.6 479.0,176.7 479.5,175.8 480.0,175.0 480.5,174.1 481.0,173.2 481.4,172.3 481.9,171.4 482.3,170.5 482.8,169.6 483.2,168.7 483.6,167.8 484.0,166.8 484.4,165.9 484.8,165.0 485.3,164.1 485.7,163.2 486.1,162.3 486.5,161.4 487.0,160.5 487.4,159.5 487.8,158.6 488.3,157.7 488.7,156.8 489.1,155.9 489.6,155.0 490.0,154.1 490.5,153.2 490.9,152.3 491.4,151.4 491.8,150.5 492.3,149.6 492.8,148.7 493.3,147.9 493.8,147.0 494.4,146.1 494.9,145.3 495.5,144.5 496.1,143.6 496.6,142.8 497.1,141.9 497.6,141.0 498.0,140.1 498.4,139.2 498.8,138.3 499.1,137.4 499.5,136.4 499.8,135.5 500.1,134.5 500.5,133.5 500.8,132.6 501.1,131.6 501.5,130.7 501.8,129.7 502.2,128.8 502.5,127.8 502.9,126.9 503.2,126.0 503.6,125.0 504.0,124.1 504.3,123.1 504.7,122.2 505.0,121.3 505.4,120.3 505.8,119.4 506.1,118.4 506.5,117.5 506.9,116.6 507.2,115.6 507.6,114.7 507.9,113.7 508.3,112.8 508.7,111.9 509.0,110.9 509.4,110.0 509.7,109.0 510.1,108.1 510.4,107.2 510.8,106.2 511.1,105.3 511.5,104.3 511.8,103.3 512.1,102.4 512.4,101.4 512.8,100.4 513.1,99.5 513.4,98.5 513.8,97.6 514.2,96.7 514.6,95.8 515.0,94.9 515.5,94.1 516.1,93.2 516.7,92.4 517.3,91.6 517.9,90.8 518.5,90.0 519.1,89.1 519.7,88.3 520.3,87.5 520.9,86.7 521.4,85.8 521.9,85.0 522.4,84.1 522.9,83.2 523.3,82.3 523.8,81.4 524.2,80.5 524.6,79.6 524.9,78.6 525.3,77.7 525.7,76.7 526.1,75.8 526.5,74.9 526.8,73.9 527.2,73.0 527.5,72.0 527.9,71.1 528.2,70.2 528.6,69.2 529.0,68.3 529.4,67.4 529.7,66.4 530.1,65.5 530.5,64.5 530.9,63.6 531.3,62.7 531.8,61.8 532.2,60.9 532.8,60.0 533.4,59.0 534.1,58.2 534.8,58.0 535.7,58.7 536.2,59.4 536.5,60.4 536.6,61.5" fill="none" stroke="#00ff00" stroke-width="6.2" stroke-linejoin="round" stroke-linecap="round" />
<polyline points="498.2,138.0 498.6,151.0" fill="none" stroke="#00ff00" stroke-width="3" stroke-linejoin="round" stroke-linecap="round" />
<polyline points="536.6,61.5 536.1,68.0 536.6,95.0 538.4,155.0 539.3,227.0" fill="none" stroke="#30f030" stroke-width="1.2" stroke-linejoin="round" stroke-linecap="round" />
<circle cx="541.8" cy="49" r="1.8" fill="#ff0000"/>
<path d="M525.6 228 L528.1 223 L530.6 228 Z" fill="#0000ff"/>
<path d="M536.6 196.5 L541.6 196.5 L539.1 201 Z" fill="#00ff00"/>
<path d="M536.8 224 L541.8 224 L539.3 228 Z" fill="#00ff00"/>
<circle cx="542.1" cy="226.5" r="1.5" fill="#ff0000"/>
<circle cx="530.9" cy="226.5" r="1.5" fill="#ff00ff"/></g>
<rect x="44.3" y="5.7" width="282.8" height="222.9" fill="none" stroke="#505050" stroke-width="1.6"/>
<rect x="392.7" y="5.7" width="282.8" height="222.9" fill="none" stroke="#505050" stroke-width="1.6"/>
<g stroke="#505050" stroke-width="1.2"><line x1="44.3" y1="228.60" x2="48.8" y2="228.60"/>
<line x1="44.3" y1="203.83" x2="48.8" y2="203.83"/>
<line x1="44.3" y1="179.07" x2="48.8" y2="179.07"/>
<line x1="44.3" y1="154.30" x2="48.8" y2="154.30"/>
<line x1="44.3" y1="129.53" x2="48.8" y2="129.53"/>
<line x1="44.3" y1="104.77" x2="48.8" y2="104.77"/>
<line x1="44.3" y1="80.00" x2="48.8" y2="80.00"/>
<line x1="44.3" y1="55.23" x2="48.8" y2="55.23"/>
<line x1="44.3" y1="30.47" x2="48.8" y2="30.47"/>
<line x1="44.3" y1="5.70" x2="48.8" y2="5.70"/>
<line x1="44.30" y1="228.6" x2="44.30" y2="224.1"/>
<line x1="67.87" y1="228.6" x2="67.87" y2="226.1"/>
<line x1="91.43" y1="228.6" x2="91.43" y2="224.1"/>
<line x1="115.00" y1="228.6" x2="115.00" y2="226.1"/>
<line x1="138.57" y1="228.6" x2="138.57" y2="224.1"/>
<line x1="162.13" y1="228.6" x2="162.13" y2="226.1"/>
<line x1="185.70" y1="228.6" x2="185.70" y2="224.1"/>
<line x1="209.27" y1="228.6" x2="209.27" y2="226.1"/>
<line x1="232.83" y1="228.6" x2="232.83" y2="224.1"/>
<line x1="256.40" y1="228.6" x2="256.40" y2="226.1"/>
<line x1="279.97" y1="228.6" x2="279.97" y2="224.1"/>
<line x1="303.53" y1="228.6" x2="303.53" y2="226.1"/>
<line x1="327.10" y1="228.6" x2="327.10" y2="224.1"/>
<line x1="392.7" y1="228.60" x2="397.2" y2="228.60"/>
<line x1="392.7" y1="196.76" x2="397.2" y2="196.76"/>
<line x1="392.7" y1="164.91" x2="397.2" y2="164.91"/>
<line x1="392.7" y1="133.07" x2="397.2" y2="133.07"/>
<line x1="392.7" y1="101.23" x2="397.2" y2="101.23"/>
<line x1="392.7" y1="69.39" x2="397.2" y2="69.39"/>
<line x1="392.7" y1="37.54" x2="397.2" y2="37.54"/>
<line x1="392.7" y1="5.70" x2="397.2" y2="5.70"/>
<line x1="392.70" y1="228.6" x2="392.70" y2="224.1"/>
<line x1="420.98" y1="228.6" x2="420.98" y2="226.1"/>
<line x1="449.26" y1="228.6" x2="449.26" y2="224.1"/>
<line x1="477.54" y1="228.6" x2="477.54" y2="226.1"/>
<line x1="505.82" y1="228.6" x2="505.82" y2="224.1"/>
<line x1="534.10" y1="228.6" x2="534.10" y2="226.1"/>
<line x1="562.38" y1="228.6" x2="562.38" y2="224.1"/>
<line x1="590.66" y1="228.6" x2="590.66" y2="226.1"/>
<line x1="618.94" y1="228.6" x2="618.94" y2="224.1"/>
<line x1="647.22" y1="228.6" x2="647.22" y2="226.1"/>
<line x1="675.50" y1="228.6" x2="675.50" y2="224.1"/></g>
<g><line x1="259.3" y1="15.5" x2="295" y2="15.5" stroke="#505050" stroke-width="1.1"/>
<rect x="275.9" y="14.2" width="2.6" height="2.6" fill="#808080"/>
<line x1="259.3" y1="35.4" x2="295" y2="35.4" stroke="#ff4a4a" stroke-width="1.1"/>
<circle cx="277.2" cy="35.4" r="1.5" fill="#ffb8b8"/>
<line x1="259.3" y1="55.2" x2="295" y2="55.2" stroke="#3838ff" stroke-width="1.1"/>
<path d="M275.2 56.7 L277.2 53.2 L279.2 56.7 Z" fill="#00a0ff"/>
<line x1="259.3" y1="75.0" x2="295" y2="75.0" stroke="#60ff60" stroke-width="1.1"/>
<circle cx="277.2" cy="75.0" r="1.5" fill="#a0f0a0"/>
<line x1="259.3" y1="94.9" x2="295" y2="94.9" stroke="#ff30ff" stroke-width="1.1"/>
<path d="M275.2 94.9 L277.2 92.60000000000001 L279.2 94.9 L277.2 97.2 Z" fill="#ff00ff"/>
<line x1="259.3" y1="114.8" x2="295" y2="114.8" stroke="#70ffff" stroke-width="1.1"/>
<circle cx="277.2" cy="114.8" r="1.5" fill="#a0ffff"/>
<line x1="259.3" y1="134.6" x2="295" y2="134.6" stroke="#f5cf90" stroke-width="1.1"/>
<circle cx="277.2" cy="134.6" r="1.5" fill="#f5deb3"/>
<line x1="594" y1="17.4" x2="630.5" y2="17.4" stroke="#333" stroke-width="1.1"/>
<circle cx="611.8" cy="17.4" r="1.6" fill="#000"/>
<line x1="594" y1="37.2" x2="630.5" y2="37.2" stroke="#ff5050" stroke-width="1.1"/>
<circle cx="611.8" cy="37.2" r="1.6" fill="#ff0000"/>
<line x1="594" y1="57.1" x2="630.5" y2="57.1" stroke="#5050ff" stroke-width="1.1"/>
<path d="M609.8 58.7 L611.8 55.1 L613.8 58.7 Z" fill="#0000ff"/>
<line x1="594" y1="76.8" x2="630.5" y2="76.8" stroke="#50ff50" stroke-width="1.1"/>
<path d="M609.8 75.39999999999999 L611.8 78.8 L613.8 75.39999999999999 Z" fill="#00ff00"/>
<line x1="594" y1="96.4" x2="630.5" y2="96.4" stroke="#ff50ff" stroke-width="1.1"/>
<circle cx="611.8" cy="96.4" r="1.6" fill="#ff00ff"/></g>
<g><circle cx="46.5" cy="226.5" r="3.4" fill="#000"/>
<circle cx="116.7" cy="187.7" r="3.4" fill="#000"/>
<circle cx="147.4" cy="101.3" r="3.4" fill="#000"/>
<circle cx="164" cy="61" r="3.4" fill="#000"/>
<circle cx="167" cy="225.7" r="3.4" fill="#000"/></g>
<g font-family="'Liberation Serif', 'Times New Roman', serif" fill="#000" stroke="#000" stroke-width="0.3"><text x="38.6" y="208.8" text-anchor="end" font-size="15.5">5</text>
<text x="38.6" y="184.1" text-anchor="end" font-size="15.5">10</text>
<text x="38.6" y="159.3" text-anchor="end" font-size="15.5">15</text>
<text x="38.6" y="134.5" text-anchor="end" font-size="15.5">20</text>
<text x="38.6" y="109.8" text-anchor="end" font-size="15.5">25</text>
<text x="38.6" y="85.0" text-anchor="end" font-size="15.5">30</text>
<text x="38.6" y="60.2" text-anchor="end" font-size="15.5">35</text>
<text x="38.6" y="35.5" text-anchor="end" font-size="15.5">40</text>
<text x="38.6" y="10.7" text-anchor="end" font-size="15.5">45</text>
<text x="44.3" y="246.2" text-anchor="middle" font-size="15.5">0.0</text>
<text x="91.4" y="246.2" text-anchor="middle" font-size="15.5">0.5</text>
<text x="138.6" y="246.2" text-anchor="middle" font-size="15.5">1.0</text>
<text x="185.7" y="246.2" text-anchor="middle" font-size="15.5">1.5</text>
<text x="232.8" y="246.2" text-anchor="middle" font-size="15.5">2.0</text>
<text x="280.0" y="246.2" text-anchor="middle" font-size="15.5">2.5</text>
<text x="327.1" y="246.2" text-anchor="middle" font-size="15.5">3.0</text>
<text x="388.2" y="201.8" text-anchor="end" font-size="15.5">5</text>
<text x="388.2" y="169.9" text-anchor="end" font-size="15.5">10</text>
<text x="388.2" y="138.1" text-anchor="end" font-size="15.5">15</text>
<text x="388.2" y="106.2" text-anchor="end" font-size="15.5">20</text>
<text x="388.2" y="74.4" text-anchor="end" font-size="15.5">25</text>
<text x="388.2" y="42.5" text-anchor="end" font-size="15.5">30</text>
<text x="388.2" y="10.7" text-anchor="end" font-size="15.5">35</text>
<text x="392.7" y="246.2" text-anchor="middle" font-size="15.5">0.0</text>
<text x="449.3" y="246.2" text-anchor="middle" font-size="15.5">0.5</text>
<text x="505.8" y="246.2" text-anchor="middle" font-size="15.5">1.0</text>
<text x="562.4" y="246.2" text-anchor="middle" font-size="15.5">1.5</text>
<text x="618.9" y="246.2" text-anchor="middle" font-size="15.5">2.0</text>
<text x="675.5" y="246.2" text-anchor="middle" font-size="15.5">2.5</text>
<text x="186.9" y="266.7" text-anchor="middle" font-size="16.5">Axial strain/%</text>
<text x="534.5" y="266.7" text-anchor="middle" font-size="16.5">Axial strain/%</text>
<text transform="translate(15.9 117.5) rotate(-90)" text-anchor="middle" font-size="16.9">Axial stress/MPa</text>
<text transform="translate(363.9 117.5) rotate(-90)" text-anchor="middle" font-size="16.9">Axial stress/MPa</text>
<text x="0" y="14.8" font-size="19">(a)</text>
<text x="346.4" y="14.8" font-size="19">(b)</text>
<text x="44.3" y="221" font-size="16.3">O</text>
<text x="101.3" y="189.8" font-size="16.3">A</text>
<text x="132.3" y="104.6" font-size="16.3">B</text>
<text x="168" y="61.3" font-size="16.3">C</text>
<text x="171.8" y="227.2" font-size="16.3">D</text>
<text x="299.6" y="20.7" font-size="15.5" font-weight="bold" stroke-width="0.1">0°</text>
<text x="299.6" y="40.6" font-size="15.5" font-weight="bold" stroke-width="0.1">15°</text>
<text x="299.6" y="60.4" font-size="15.5" font-weight="bold" stroke-width="0.1">30°</text>
<text x="299.6" y="80.2" font-size="15.5" font-weight="bold" stroke-width="0.1">45°</text>
<text x="299.6" y="100.1" font-size="15.5" font-weight="bold" stroke-width="0.1">60°</text>
<text x="299.6" y="120.0" font-size="15.5" font-weight="bold" stroke-width="0.1">75°</text>
<text x="299.6" y="139.8" font-size="15.5" font-weight="bold" stroke-width="0.1">90°</text>
<text x="634.4" y="22.7" font-size="16">-10ºC</text>
<text x="634.4" y="42.5" font-size="16">-15ºC</text>
<text x="634.4" y="62.4" font-size="16">-20ºC</text>
<text x="634.4" y="82.1" font-size="16">-30ºC</text>
<text x="634.4" y="101.7" font-size="16">-40ºC</text></g>
</svg>
</body>
</html>
